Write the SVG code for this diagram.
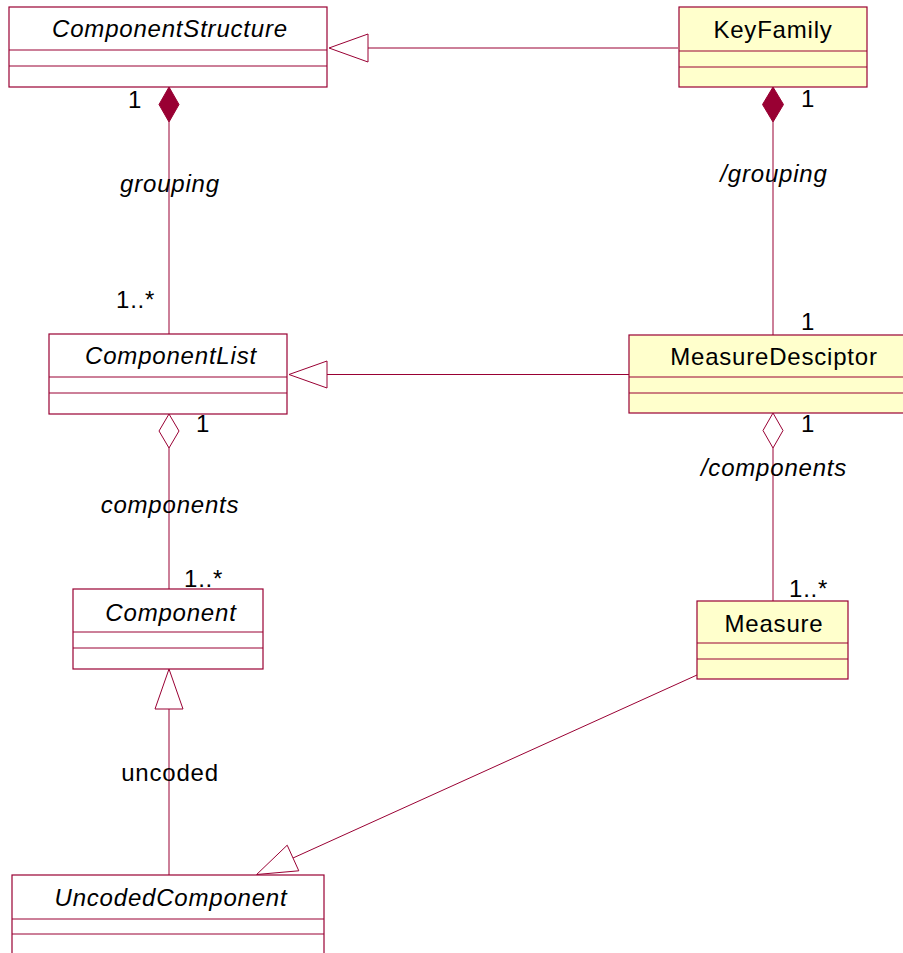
<svg xmlns="http://www.w3.org/2000/svg" width="903" height="953" viewBox="0 0 903 953">
  <style>
    .cls { fill: #ffffff; stroke: #990033; stroke-width: 1.2; }
    .cls.concrete { fill: #ffffcc; }
    .sep { stroke: #990033; stroke-width: 1; fill: none; }
    .line { stroke: #990033; stroke-width: 1; fill: none; }
    .hollow { stroke: #990033; stroke-width: 1; fill: #ffffff; }
    .solid { stroke: #990033; stroke-width: 1; fill: #990033; }
    text { font-family: "Liberation Sans", Arial, sans-serif; font-size: 24px; fill: #000000; letter-spacing: 0.8px; }
    .name { text-anchor: middle; }
    .abstract { font-style: italic; }
    .role { font-style: italic; text-anchor: middle; }
    .plain { text-anchor: middle; }
  </style>

  <!-- connectors -->
  <g id="connectors">
    <!-- KeyFamily generalizes ComponentStructure -->
    <line class="line" x1="368" y1="48" x2="678" y2="48"/>
    <polygon class="hollow" points="329,48 368,34 368,62"/>

    <!-- ComponentStructure grouping ComponentList -->
    <line class="line" x1="169" y1="122" x2="169" y2="334"/>
    <polygon class="solid" points="169,87 179,104.5 169,122 159,104.5"/>

    <!-- KeyFamily /grouping MeasureDesciptor -->
    <line class="line" x1="773" y1="122" x2="773" y2="335"/>
    <polygon class="solid" points="773,87 783.5,104.5 773,122 762.5,104.5"/>

    <!-- MeasureDesciptor generalizes ComponentList -->
    <line class="line" x1="327" y1="374.5" x2="629" y2="374.5"/>
    <polygon class="hollow" points="289,374.5 327,361 327,388"/>

    <!-- ComponentList components Component -->
    <line class="line" x1="169" y1="448" x2="169" y2="589"/>
    <polygon class="hollow" points="169,414 179,431 169,448 159,431"/>

    <!-- MeasureDesciptor /components Measure -->
    <line class="line" x1="773" y1="448" x2="773" y2="601"/>
    <polygon class="hollow" points="773,413 783,430.5 773,448 763,430.5"/>

    <!-- UncodedComponent generalizes Component -->
    <line class="line" x1="169" y1="709" x2="169" y2="875"/>
    <polygon class="hollow" points="169,669 183,709 155,709"/>

    <!-- Measure generalizes UncodedComponent -->
    <line class="line" x1="697" y1="675" x2="293" y2="858"/>
    <polygon class="hollow" points="256.6,874.5 287.2,845.2 298.8,870.8"/>

    <!-- multiplicities and roles -->
    <text x="135" y="108" class="plain">1</text>
    <text x="808" y="107" class="plain">1</text>
    <text x="170" y="192" class="role">grouping</text>
    <text x="774" y="182" class="role">/grouping</text>
    <text x="116" y="308">1..*</text>
    <text x="808" y="330" class="plain">1</text>
    <text x="203" y="432" class="plain">1</text>
    <text x="808" y="432" class="plain">1</text>
    <text x="170" y="513" class="role">components</text>
    <text x="774" y="476" class="role">/components</text>
    <text x="184" y="587">1..*</text>
    <text x="789" y="597">1..*</text>
    <text x="170" y="781" class="plain">uncoded</text>
  </g>

  <!-- classes -->
  <g id="ComponentStructure">
    <rect class="cls" x="9" y="7" width="318" height="80"/>
    <line class="sep" x1="9" y1="50" x2="327" y2="50"/>
    <line class="sep" x1="9" y1="66" x2="327" y2="66"/>
    <text x="170" y="37" class="name abstract">ComponentStructure</text>
  </g>

  <g id="KeyFamily">
    <rect class="cls concrete" x="679" y="7" width="188" height="80"/>
    <line class="sep" x1="679" y1="51" x2="867" y2="51"/>
    <line class="sep" x1="679" y1="67" x2="867" y2="67"/>
    <text x="773" y="38" class="name">KeyFamily</text>
  </g>

  <g id="ComponentList">
    <rect class="cls" x="49" y="334" width="238" height="80"/>
    <line class="sep" x1="49" y1="377" x2="287" y2="377"/>
    <line class="sep" x1="49" y1="393" x2="287" y2="393"/>
    <text x="171" y="364" class="name abstract">ComponentList</text>
  </g>

  <g id="MeasureDesciptor">
    <rect class="cls concrete" x="629" y="335" width="288" height="78"/>
    <line class="sep" x1="629" y1="377" x2="917" y2="377"/>
    <line class="sep" x1="629" y1="393" x2="917" y2="393"/>
    <text x="774" y="365" class="name">MeasureDesciptor</text>
  </g>

  <g id="Component">
    <rect class="cls" x="73" y="589" width="190" height="80"/>
    <line class="sep" x1="73" y1="632" x2="263" y2="632"/>
    <line class="sep" x1="73" y1="648" x2="263" y2="648"/>
    <text x="171" y="621" class="name abstract">Component</text>
  </g>

  <g id="Measure">
    <rect class="cls concrete" x="697" y="601" width="151" height="78"/>
    <line class="sep" x1="697" y1="643" x2="848" y2="643"/>
    <line class="sep" x1="697" y1="659" x2="848" y2="659"/>
    <text x="774" y="632" class="name">Measure</text>
  </g>

  <g id="UncodedComponent">
    <rect class="cls" x="12" y="875" width="312" height="90"/>
    <line class="sep" x1="12" y1="919" x2="324" y2="919"/>
    <line class="sep" x1="12" y1="934" x2="324" y2="934"/>
    <text x="171" y="906" class="name abstract">UncodedComponent</text>
  </g>
</svg>
